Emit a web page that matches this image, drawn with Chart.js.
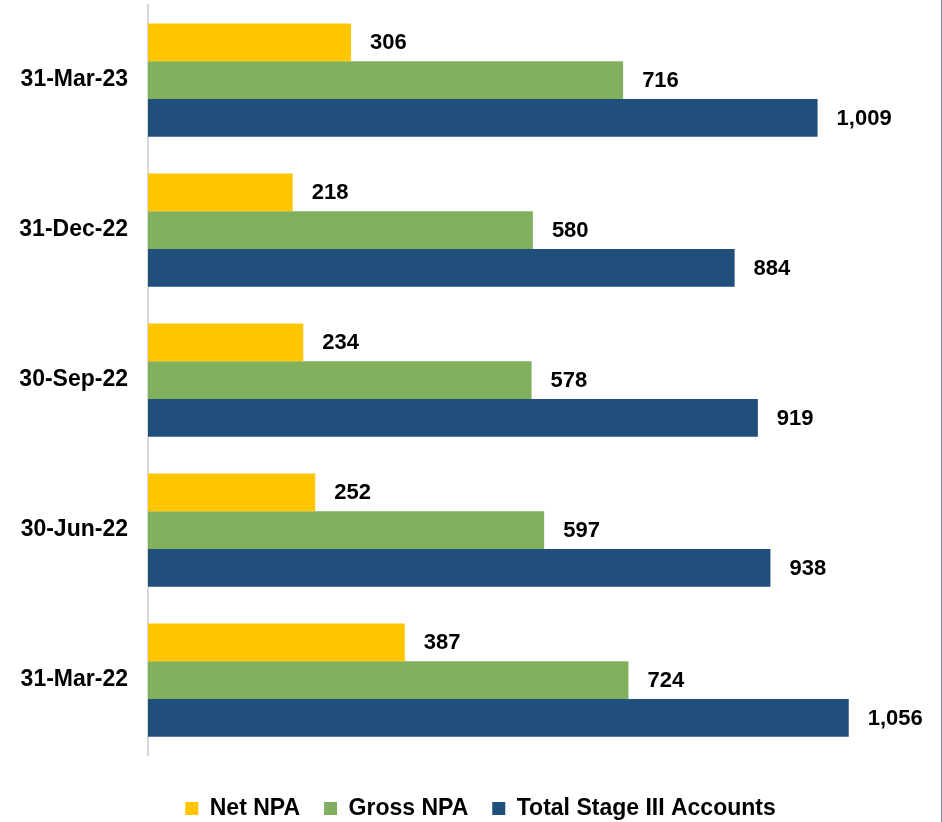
<!DOCTYPE html>
<html>
<head>
<meta charset="utf-8">
<script src="https://cdn.jsdelivr.net/npm/chart.js@4.4.0/dist/chart.umd.min.js"></script>
<style>
  html, body { margin: 0; padding: 0; background: #fff; }
  #wrap { width: 941px; height: 822px; border-right: 1px solid #6a8cb2; }
</style>
</head>
<body>
<div id="wrap"><canvas id="npaChart"></canvas></div>
<script>
const quarters = ["31-Mar-23", "31-Dec-22", "30-Sep-22", "30-Jun-22", "31-Mar-22"];
const netNpa = [306, 218, 234, 252, 387];
const grossNpa = [716, 580, 578, 597, 724];
const stageThree = [1009, 884, 919, 938, 1056];

const font = "'Liberation Sans', Arial, sans-serif";

// prints the value just past the end of every bar
const valueLabels = {
  id: "valueLabels",
  afterDatasetsDraw(chart) {
    const ctx = chart.ctx;
    ctx.save();
    ctx.font = "bold 22px " + font;
    ctx.fillStyle = "#000";
    ctx.textAlign = "left";
    ctx.textBaseline = "middle";
    chart.data.datasets.forEach((ds, i) => {
      chart.getDatasetMeta(i).data.forEach((bar, j) => {
        ctx.fillText(ds.data[j].toLocaleString("en-US"), bar.x + 19, bar.y + 1);
      });
    });
    ctx.restore();
  },
};

new Chart(document.getElementById("npaChart"), {
  type: "bar",
  data: {
    labels: quarters,
    datasets: [
      { label: "Net NPA", data: netNpa, backgroundColor: "#FFC600" },
      { label: "Gross NPA", data: grossNpa, backgroundColor: "#80AF5E" },
      { label: "Total Stage III Accounts", data: stageThree, backgroundColor: "#214F7C" },
    ],
  },
  options: {
    indexAxis: "y",
    responsive: true,
    maintainAspectRatio: false,
    animation: false,
    layout: { padding: { left: 20, right: 0, top: 5, bottom: -8 } },
    datasets: { bar: { barPercentage: 1, categoryPercentage: 0.755 } },
    scales: {
      x: {
        min: 0,
        max: 1195,
        grid: { display: false },
        border: { display: false },
        ticks: { display: false },
        // empty strip between the bars and the legend
        afterFit(scale) { scale.height = 18; },
      },
      y: {
        grid: { display: false, drawTicks: false },
        border: { color: "#d9d9d9", width: 2 },
        ticks: {
          color: "#000",
          padding: 20,
          font: { family: font, size: 23, weight: "bold" },
        },
        afterFit(scale) {
          scale.width = 128;
          scale.paddingTop = 0;
          scale.paddingBottom = 0;
        },
      },
    },
    plugins: {
      tooltip: { enabled: false },
      legend: {
        position: "bottom",
        labels: {
          color: "#000",
          boxWidth: 13,
          boxHeight: 13,
          padding: 24,
          font: { family: font, size: 23, weight: "bold" },
        },
      },
    },
  },
  plugins: [valueLabels],
});
</script>
</body>
</html>
